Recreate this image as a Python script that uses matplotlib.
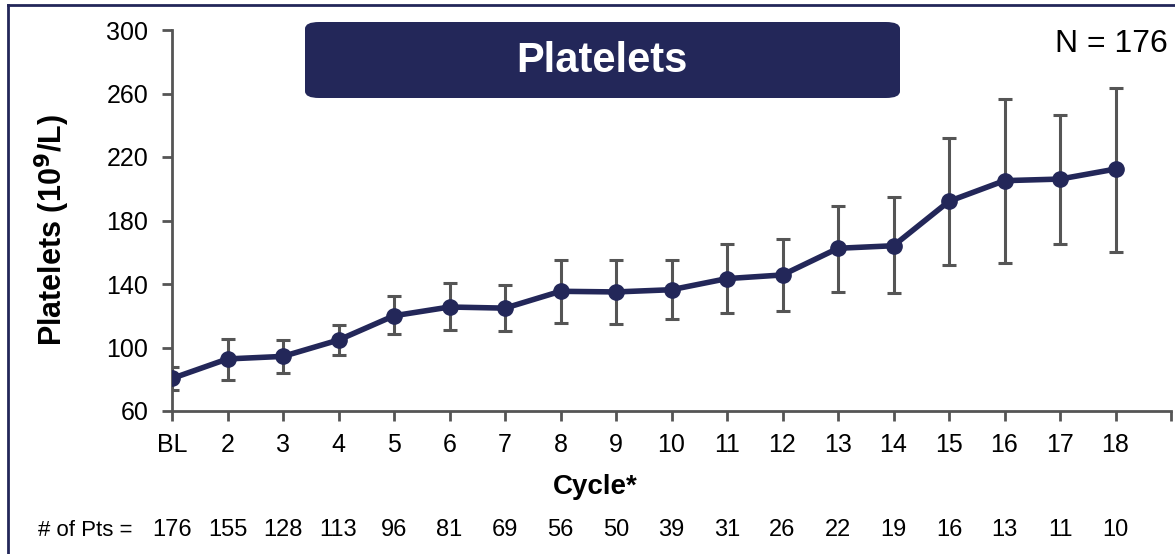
import numpy as np
import matplotlib.pyplot as plt
from matplotlib.patches import FancyBboxPatch
from matplotlib.lines import Line2D
import matplotlib.transforms as mtransforms

# Data
cycles = ['BL', '2', '3', '4', '5', '6', '7', '8', '9', '10',
          '11', '12', '13', '14', '15', '16', '17', '18']
platelets = [80.5, 92.8, 94.4, 104.7, 120.0, 125.5, 124.8, 135.4, 135.0, 136.4,
             143.4, 145.7, 162.5, 164.1, 192.1, 205.1, 206.1, 212.4]
upper = [87.5, 105.3, 104.7, 114.4, 132.2, 140.4, 139.4, 155.1, 154.9, 154.9,
         165.2, 168.1, 189.1, 194.8, 231.8, 256.7, 246.5, 263.7]
lower = [73.2, 79.5, 83.7, 95.0, 108.2, 111.0, 110.6, 115.6, 115.1, 117.8,
         121.5, 123.2, 135.2, 134.1, 152.0, 153.2, 165.4, 160.4]
n_pts = [176, 155, 128, 113, 96, 81, 69, 56, 50, 39,
         31, 26, 22, 19, 16, 13, 11, 10]

navy = '#232759'
gray = '#555555'

plt.rcParams['font.family'] = ['Liberation Sans', 'DejaVu Sans']
plt.rcParams['mathtext.default'] = 'bf'

fig = plt.figure(figsize=(11.75, 5.54), dpi=100)
ax = fig.add_axes([172 / 1175, 1 - 411 / 554, (1171 - 172) / 1175, 381 / 554])

x = np.arange(len(cycles))
y = np.array(platelets)
yerr = [y - np.array(lower), np.array(upper) - y]

# error bars sit behind the line and markers
ax.errorbar(x, y, yerr=yerr, fmt='none', ecolor=gray, elinewidth=2.2,
            capsize=5, capthick=2.2, zorder=2)
ax.plot(x, y, color=navy, linewidth=4, marker='o', markersize=11, zorder=3)

ax.set_xlim(0, len(cycles))
ax.set_ylim(60, 300)
ax.set_xticks(np.arange(len(cycles) + 1))
ax.set_xticklabels(cycles + [''])
ax.set_yticks(np.arange(60, 301, 40))

for s in ['top', 'right']:
    ax.spines[s].set_visible(False)
for s in ['left', 'bottom']:
    ax.spines[s].set_color(gray)
    ax.spines[s].set_linewidth(2)
ax.tick_params(axis='both', colors=gray, width=2, length=7, labelsize=18,
               labelcolor='black')
ax.tick_params(axis='x', pad=9)
ax.tick_params(axis='y', pad=10)

fig.text(52 / 1175, 1 - 230 / 554, 'Platelets (10$^{9}$/L)', rotation=90,
         ha='center', va='center', fontsize=22, fontweight='bold')

fig.text(595 / 1175, 1 - 487 / 554, 'Cycle*', ha='center', va='center',
         fontsize=20, fontweight='bold')

# number of patients row
trans = mtransforms.blended_transform_factory(ax.transData, fig.transFigure)
fig.text(38 / 1175, 1 - 530 / 554, '# of Pts =', ha='left', va='center',
         fontsize=16)
for i, n in enumerate(n_pts):
    ax.text(i, 1 - 530 / 554, str(n), transform=trans, ha='center', va='center',
            fontsize=17)

# title box
box = FancyBboxPatch((305 / 1175, 1 - 98 / 554), (900 - 305) / 1175, 76 / 554,
                     boxstyle='round,pad=0,rounding_size=0.012',
                     transform=fig.transFigure, facecolor=navy, edgecolor='none')
fig.patches.append(box)
fig.text(602 / 1175, 1 - 61 / 554, 'Platelets', ha='center', va='center',
         fontsize=30, fontweight='bold', color='white')

fig.text(1168 / 1175, 1 - 44 / 554, 'N = 176', ha='right', va='center', fontsize=23)

# frame lines (top and left)
fig.lines.append(Line2D([8 / 1175, 1], [1 - 5 / 554, 1 - 5 / 554],
                        transform=fig.transFigure, color=navy, linewidth=2))
fig.lines.append(Line2D([8 / 1175, 8 / 1175], [0, 1 - 5 / 554],
                        transform=fig.transFigure, color=navy, linewidth=2))

fig.savefig('out.png', dpi=100)
